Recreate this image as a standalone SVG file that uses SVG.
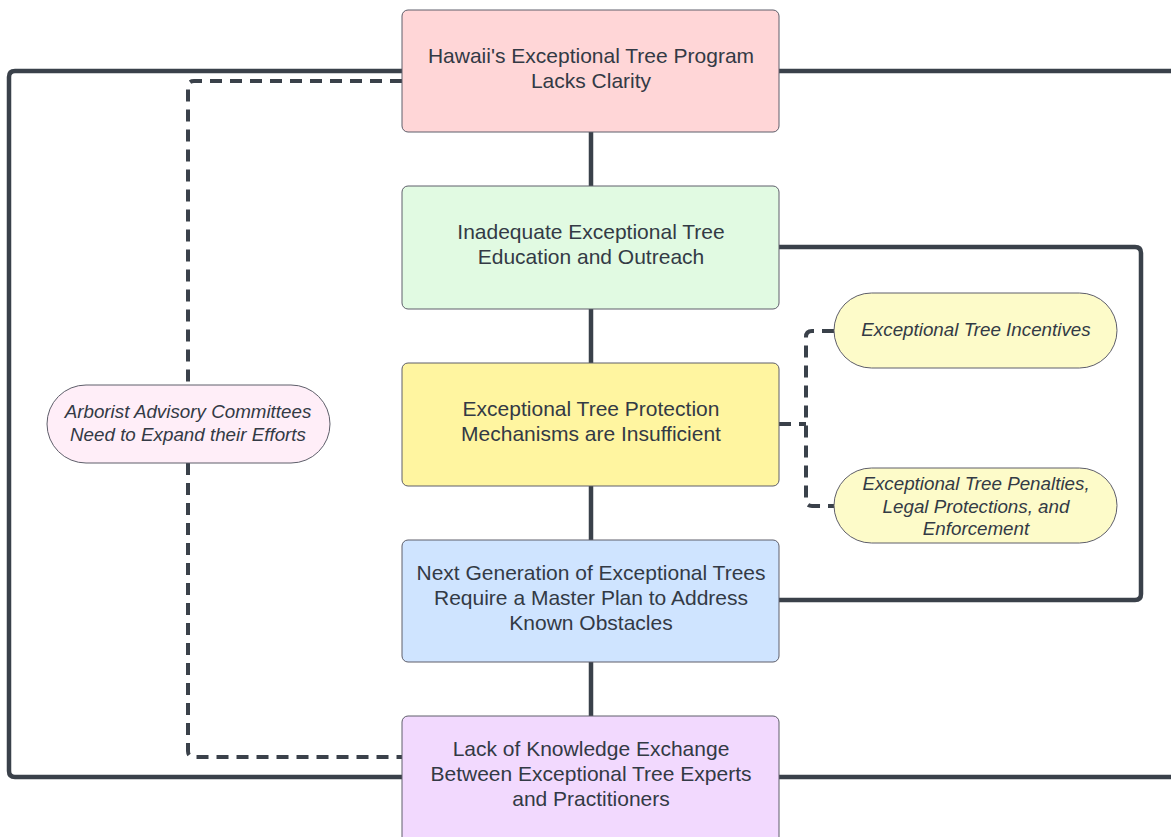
<svg xmlns="http://www.w3.org/2000/svg" width="1171" height="837" viewBox="0 0 1171 837">
<style>
.box{stroke:#5e5e6a;stroke-width:1}
.pill{stroke:#5e5e6a;stroke-width:1}
.t{font-family:"Liberation Sans",Arial,sans-serif;font-size:21px;fill:#333a45;text-anchor:middle}
.ti{font-family:"Liberation Sans",Arial,sans-serif;font-size:18.8px;font-style:italic;fill:#333a45;text-anchor:middle}
.c{fill:none;stroke:#3a414a;stroke-width:4.5;stroke-linejoin:round}
.d{fill:none;stroke:#3a414a;stroke-width:4;stroke-dasharray:12 8}
</style>
<rect width="1171" height="837" fill="#ffffff"/>
<g id="connectors">
<path class="c" d="M591 132 V186 M591 309 V363 M591 486 V540 M591 662 V716"/>
<path class="c" d="M402 71 H15 Q9 71 9 77 V771 Q9 777 15 777 H402"/>
<path class="c" d="M779 71 H1171 M779 777 H1171"/>
<path class="c" d="M779 247 H1135 Q1141 247 1141 253 V594 Q1141 600 1135 600 H779"/>
<path class="d" d="M402 81 H194 Q188 81 188 87 V385 M188 463 V751 Q188 757 194 757 H402"/>
<path class="d" d="M779 424 H806 M834 331 H812 Q806 331 806 337 V500 Q806 506 812 506 H834"/>
</g>
<g id="n1"><rect class="box" x="402" y="10" width="377" height="122" rx="6" fill="#ffd6d7"/>
<text class="t" x="591" y="63">Hawaii's Exceptional Tree Program</text><text class="t" x="591" y="88">Lacks Clarity</text></g>
<g id="n2"><rect class="box" x="402" y="186" width="377" height="123" rx="6" fill="#e1fae2"/>
<text class="t" x="591" y="239">Inadequate Exceptional Tree</text><text class="t" x="591" y="264">Education and Outreach</text></g>
<g id="n3"><rect class="box" x="402" y="363" width="377" height="123" rx="6" fill="#fff5a0"/>
<text class="t" x="591" y="416">Exceptional Tree Protection</text><text class="t" x="591" y="441">Mechanisms are Insufficient</text></g>
<g id="n4"><rect class="box" x="402" y="540" width="377" height="122" rx="6" fill="#cfe4ff"/>
<text class="t" x="591" y="580">Next Generation of Exceptional Trees</text><text class="t" x="591" y="605">Require a Master Plan to Address</text><text class="t" x="591" y="630">Known Obstacles</text></g>
<g id="n5"><rect class="box" x="402" y="716" width="377" height="130" rx="6" fill="#f2d9fe"/>
<text class="t" x="591" y="756">Lack of Knowledge Exchange</text><text class="t" x="591" y="781">Between Exceptional Tree Experts</text><text class="t" x="591" y="806">and Practitioners</text></g>
<g id="p1"><rect class="pill" x="47" y="385" width="283" height="78" rx="39" fill="#ffeef8"/>
<text class="ti" x="188" y="418">Arborist Advisory Committees</text><text class="ti" x="188" y="441">Need to Expand their Efforts</text></g>
<g id="p2"><rect class="pill" x="834" y="293" width="283" height="75" rx="37.5" fill="#fdfbc9"/>
<text class="ti" x="976" y="336">Exceptional Tree Incentives</text></g>
<g id="p3"><rect class="pill" x="834" y="468" width="283" height="75" rx="37.5" fill="#fdfbc9"/>
<text class="ti" x="976" y="490">Exceptional Tree Penalties,</text><text class="ti" x="976" y="513">Legal Protections, and</text><text class="ti" x="976" y="535">Enforcement</text></g>
</svg>
